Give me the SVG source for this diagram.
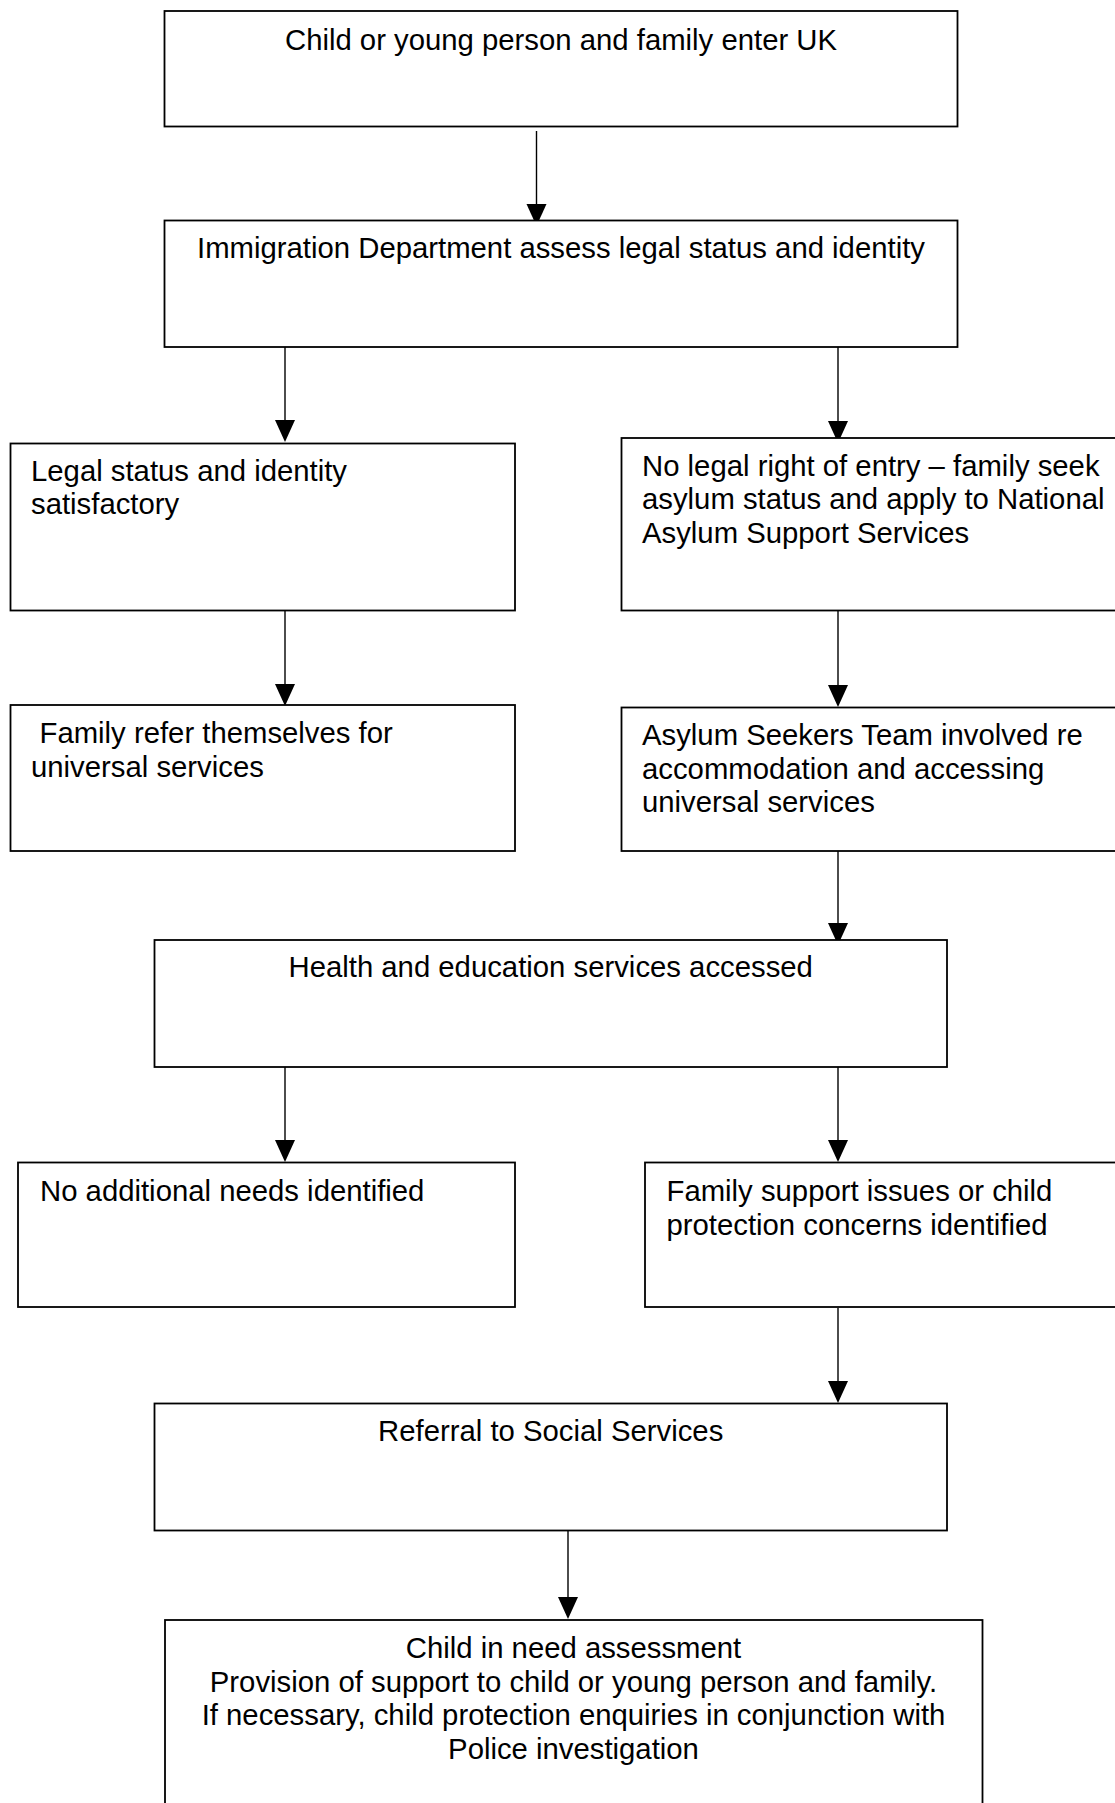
<svg xmlns="http://www.w3.org/2000/svg" width="1115" height="1803" viewBox="0 0 1115 1803">
<defs>
<style>
.box{fill:#fff;stroke:#000;stroke-width:1.8}
.t{font-family:"Liberation Sans",Arial,sans-serif;font-size:29.3px;fill:#000}
.c{text-anchor:middle}
.ln{stroke:#000;stroke-width:1.4;fill:none}
.hd{fill:#000}
</style>
</defs>
<rect width="1115" height="1803" fill="#fff"/>
<g id="connectors">
<line class="ln" x1="536.5" y1="131" x2="536.5" y2="206"/>
<polygon class="hd" points="526.5,204 546.5,204 536.5,226"/>
<line class="ln" x1="285" y1="347" x2="285" y2="422"/>
<polygon class="hd" points="275,420 295,420 285,442"/>
<line class="ln" x1="838" y1="347" x2="838" y2="423"/>
<polygon class="hd" points="828,421 848,421 838,443"/>
<line class="ln" x1="285" y1="611" x2="285" y2="686"/>
<polygon class="hd" points="275,684 295,684 285,706"/>
<line class="ln" x1="838" y1="611" x2="838" y2="687"/>
<polygon class="hd" points="828,685 848,685 838,707"/>
<line class="ln" x1="838" y1="851" x2="838" y2="925"/>
<polygon class="hd" points="828,923 848,923 838,945"/>
<line class="ln" x1="285" y1="1067" x2="285" y2="1142"/>
<polygon class="hd" points="275,1140 295,1140 285,1162"/>
<line class="ln" x1="838" y1="1067" x2="838" y2="1142"/>
<polygon class="hd" points="828,1140 848,1140 838,1162"/>
<line class="ln" x1="838" y1="1308" x2="838" y2="1383"/>
<polygon class="hd" points="828,1381 848,1381 838,1403"/>
<line class="ln" x1="568" y1="1523" x2="568" y2="1599"/>
<polygon class="hd" points="558,1597 578,1597 568,1619"/>
</g>
<g id="n1">
<rect class="box" x="164.5" y="11" width="793" height="115.5"/>
<text class="t c" x="561" y="49.5">Child or young person and family enter UK</text>
</g>
<g id="n2">
<rect class="box" x="164.5" y="220.5" width="793" height="126.5"/>
<text class="t c" x="561" y="257.5">Immigration Department assess legal status and identity</text>
</g>
<g id="n3">
<rect class="box" x="10.5" y="443.5" width="504.5" height="167"/>
<text class="t" x="31" y="480.5">Legal status and identity</text>
<text class="t" x="31" y="514.2">satisfactory</text>
</g>
<g id="n4">
<rect class="box" x="621.5" y="438" width="510" height="172.5"/>
<text class="t" x="642" y="475.5">No legal right of entry – family seek</text>
<text class="t" x="642" y="509.2">asylum status and apply to National</text>
<text class="t" x="642" y="542.9">Asylum Support Services</text>
</g>
<g id="n5">
<rect class="box" x="10.5" y="705" width="504.5" height="146"/>
<text class="t" x="39.5" y="742.8">Family refer themselves for</text>
<text class="t" x="31" y="776.5">universal services</text>
</g>
<g id="n6">
<rect class="box" x="621.5" y="707.5" width="510" height="143.5"/>
<text class="t" x="642" y="744.8">Asylum Seekers Team involved re</text>
<text class="t" x="642" y="778.5">accommodation and accessing</text>
<text class="t" x="642" y="812.2">universal services</text>
</g>
<g id="n7">
<rect class="box" x="154.5" y="940" width="792.5" height="127"/>
<text class="t c" x="550.7" y="976.5">Health and education services accessed</text>
</g>
<g id="n8">
<rect class="box" x="18" y="1162.5" width="497" height="144.5"/>
<text class="t" x="40" y="1201">No additional needs identified</text>
</g>
<g id="n9">
<rect class="box" x="645" y="1162.5" width="490" height="144.5"/>
<text class="t" x="666.5" y="1201">Family support issues or child</text>
<text class="t" x="666.5" y="1234.7">protection concerns identified</text>
</g>
<g id="n10">
<rect class="box" x="154.5" y="1403.5" width="792.5" height="127"/>
<text class="t c" x="550.7" y="1441">Referral to Social Services</text>
</g>
<g id="n11">
<rect class="box" x="165" y="1620" width="817.5" height="200"/>
<text class="t c" x="573.5" y="1658">Child in need assessment</text>
<text class="t c" x="573.5" y="1691.7">Provision of support to child or young person and family.</text>
<text class="t c" x="573.5" y="1725.4">If necessary, child protection enquiries in conjunction with</text>
<text class="t c" x="573.5" y="1759.1">Police investigation</text>
</g>
</svg>
